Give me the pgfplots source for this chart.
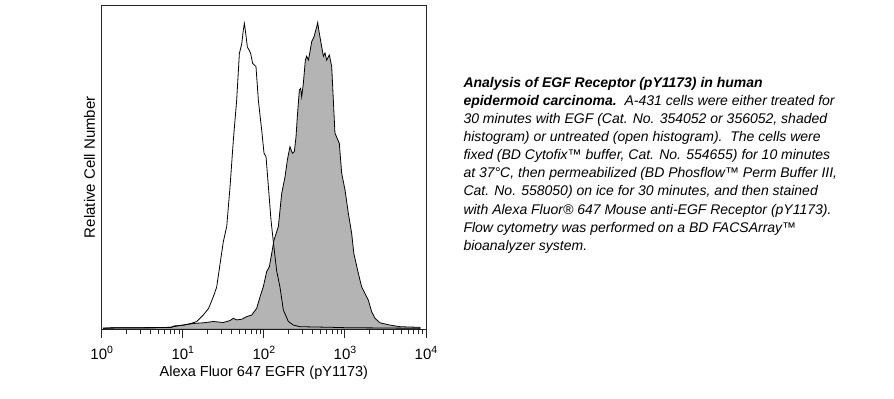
\documentclass[border=0pt]{standalone}
\usepackage{fontspec}
\setmainfont{Liberation Sans}
\usepackage{pgfplots}
\pgfplotsset{compat=1.18}
\definecolor{shade}{RGB}{180,180,180}
\newcommand{\sups}[1]{\raisebox{5.9bp}{\fontsize{10.5bp}{12bp}\selectfont #1}}
\begin{document}
\begin{tikzpicture}
\path[use as bounding box] (0,0) rectangle (894bp,399bp);
\begin{axis}[
  at={(101.7bp,69.7bp)}, anchor=south west,
  scale only axis, width=324.3bp, height=324.3bp,
  xmin=0, xmax=4, ymin=0, ymax=100,
  xtick={0,1,2,3,4},
  xticklabels={10\sups{0},10\sups{1},10\sups{2},10\sups{3},10\sups{4}},
  minor xtick={0.301,0.477,0.602,0.699,0.778,0.845,0.903,0.954,
               1.301,1.477,1.602,1.699,1.778,1.845,1.903,1.954,
               2.301,2.477,2.602,2.699,2.778,2.845,2.903,2.954,
               3.301,3.477,3.602,3.699,3.778,3.845,3.903,3.954},
  ytick=\empty,
  tick align=outside,
  xtick pos=bottom,
  major tick length=8.5bp, minor tick length=5bp,
  axis line style={line width=0.9bp, black!85},
  every tick/.style={black!85, line width=0.9bp},
  xticklabel style={font=\fontsize{15bp}{18bp}\selectfont, anchor=base, inner sep=0pt, yshift=-21.5bp},
  xlabel={Alexa Fluor 647 EGFR (pY1173)},
  xlabel style={at={(axis description cs:0.5,-0.147)}, anchor=base, inner sep=0pt, font=\fontsize{14.5bp}{17bp}\selectfont},
  ylabel={Relative Cell Number},
  ylabel style={at={(axis description cs:-0.0207,0.5)}, anchor=base, inner sep=0pt, font=\fontsize{15bp}{18bp}\selectfont},
]
% treated (shaded)
\addplot[fill=shade, draw=black, line width=0.8bp] coordinates {
(0.02,0.4) (0.3,0.5) (0.6,0.5) (0.86,0.6) (0.884,1.0) (1.007,1.3) (1.131,1.8)
(1.254,2.0) (1.377,2.4) (1.500,2.1) (1.583,2.7) (1.624,3.4) (1.665,2.9) (1.727,3.1)
(1.788,3.9) (1.850,4.4) (1.912,6.5) (1.953,10) (1.994,13.2) (2.035,17.8) (2.068,19.3)
(2.097,23.4) (2.125,27.5) (2.179,31.7) (2.220,41.9) (2.261,47) (2.290,52.2) (2.322,56.3)
(2.352,54.3) (2.376,54.8) (2.397,59.4) (2.413,65.6) (2.438,73.8) (2.454,74.3) (2.467,71.7)
(2.487,75.8) (2.512,83) (2.528,84.2) (2.549,83) (2.569,85.6) (2.590,88.7) (2.619,90.2)
(2.652,93.3) (2.664,94.6) (2.684,91.3) (2.713,87.2) (2.734,84.2) (2.754,85.2) (2.775,83)
(2.808,84.6) (2.837,81) (2.857,70.7) (2.877,60.5) (2.931,57.3) (2.960,48.1) (3.001,43)
(3.042,35.8) (3.083,29.6) (3.110,23.4) (3.165,17.3) (3.206,13.1) (3.289,9) (3.330,5.4)
(3.371,3.4) (3.433,2) (3.556,1.3) (3.679,0.8) (3.926,0.6)
} \closedcycle;
% untreated (open)
\addplot[draw=black, line width=0.8bp] coordinates {
(0.02,0.3) (0.15,0.5) (0.5,0.5) (0.85,0.6) (0.93,1.0) (1.007,1.3) (1.10,1.8)
(1.172,2.4) (1.253,4.4) (1.320,6.5) (1.376,10) (1.418,13) (1.500,27) (1.542,31.7)
(1.583,44) (1.624,58.4) (1.665,70.7) (1.698,85) (1.727,88) (1.747,92.3) (1.760,94.3)
(1.776,91.3) (1.797,87) (1.821,86) (1.838,85) (1.862,82) (1.903,81) (1.932,70.7)
(1.973,61.5) (2.002,54.3) (2.027,53.2) (2.056,44) (2.088,33.7) (2.117,27) (2.158,18)
(2.199,13) (2.240,6) (2.302,2.4) (2.364,1.3) (2.446,0.8) (2.857,0.6) (3.0,0.5)
(3.5,0.4) (3.93,0.3)
};
\end{axis}
\node[anchor=north west, inner sep=0pt, align=left,
      font=\fontsize{14bp}{18.1bp}\selectfont\itshape] at (463.3bp,322bp) {%
{\bfseries Analysis of EGF Receptor (pY1173) in human}\\
{\bfseries epidermoid carcinoma.}\ \ A-431 cells were either treated for\\
30 minutes with EGF (Cat. No. 354052 or 356052, shaded\\
histogram) or untreated (open histogram).\ \ The cells were\\
fixed (BD Cytofix™ buffer, Cat. No. 554655) for 10 minutes\\
at 37°C, then permeabilized (BD Phosflow™ Perm Buffer III,\\
Cat. No. 558050) on ice for 30 minutes, and then stained\\
with Alexa Fluor® 647 Mouse anti-EGF Receptor (pY1173).\\
Flow cytometry was performed on a BD FACSArray™\\
bioanalyzer system.};
\end{tikzpicture}
\end{document}
